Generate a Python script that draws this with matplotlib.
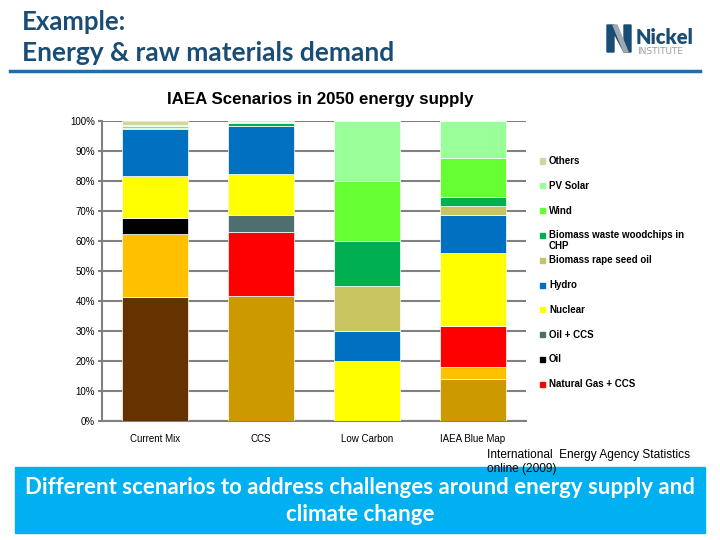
import numpy as np
import matplotlib
matplotlib.use('Agg')
import matplotlib.pyplot as plt
from matplotlib.patches import Rectangle, Polygon

scenarios = ['Current Mix', 'CCS', 'Low Carbon', 'IAEA Blue Map']

# stacking order, bottom to top
sources = ['Coal', 'Coal + CCS', 'Natural Gas', 'Natural Gas + CCS', 'Oil', 'Oil + CCS',
           'Nuclear', 'Hydro', 'Biomass rape seed oil', 'Biomass waste woodchips in\nCHP',
           'Wind', 'PV Solar', 'Others']
colors = ['#663300', '#CC9900', '#FFC000', '#FF0000', '#000000', '#4F6F6F',
          '#FFFF00', '#0070C0', '#C8C560', '#00B050', '#66FF33', '#99FF99', '#D2D69C']

# shares in percent, one list per source, values for the four scenarios
coal = [41.4, 0, 0, 0]
coal_ccs = [0, 41.8, 0, 14.1]
gas = [20.9, 0, 0, 4.0]
gas_ccs = [0, 21.2, 0, 13.7]
oil = [5.3, 0, 0, 0]
oil_ccs = [0, 5.7, 0, 0]
nuclear = [14.1, 13.7, 20.0, 24.2]
hydro = [15.5, 16.0, 10.0, 12.7]
rape_oil = [0, 0, 15.0, 3.1]
woodchips = [0.6, 1.0, 15.0, 3.0]
wind = [0.4, 0.2, 20.0, 13.0]
pv = [0.6, 0.2, 20.0, 12.2]
others = [1.2, 0.2, 0, 0]

shares = [coal, coal_ccs, gas, gas_ccs, oil, oil_ccs, nuclear, hydro,
          rape_oil, woodchips, wind, pv, others]

# the legend in the original is cut off after this many entries
n_legend = 10

fig = plt.figure(figsize=(7.2, 5.4), dpi=100)
W, H = 720, 540

# header
fig.text(22 / W, 1 - 22 / H, 'Example:', fontsize=18.5, fontweight='bold',
         family='Lato', color='#1A4D75', va='center', ha='left')
fig.text(22 / W, 1 - 53 / H, 'Energy & raw materials demand', fontsize=19, fontweight='bold',
         family='Lato', color='#1A4D75', va='center', ha='left')
fig.add_artist(plt.Line2D([10 / W, 700 / W], [1 - 71 / H, 1 - 71 / H], color='#1F6FAE', lw=2.5))

# logo
fig.add_artist(Polygon([[607 / W, 1 - 52 / H], [607 / W, 1 - 25 / H], [614 / W, 1 - 25 / H],
                        [624 / W, 1 - 44 / H], [624 / W, 1 - 25 / H], [631 / W, 1 - 25 / H],
                        [631 / W, 1 - 52 / H], [624 / W, 1 - 52 / H], [614 / W, 1 - 33 / H],
                        [614 / W, 1 - 52 / H]], closed=True, color='#1A4D75'))
fig.add_artist(Polygon([[613 / W, 1 - 25 / H], [617 / W, 1 - 25 / H], [628 / W, 1 - 52 / H],
                        [624 / W, 1 - 52 / H]], closed=True, color='#A0A8B0'))
fig.text(636 / W, 1 - 37 / H, 'Nickel', fontsize=14.5, fontweight='heavy', family='Lato',
         color='#1A4D75', va='center', ha='left')
fig.text(637 / W, 1 - 51 / H, 'INSTITUTE', fontsize=6.5, family='DejaVu Sans',
         color='#9AA0A6', va='center', ha='left')

# chart title
fig.text(320 / W, 1 - 100 / H, 'IAEA Scenarios in 2050 energy supply', fontsize=12.2,
         fontweight='bold', family='Liberation Sans', ha='center', va='center')

ax = fig.add_axes([102 / W, 1 - 421 / H, 424 / W, 300 / H])
x = np.arange(len(scenarios))
bottom = np.zeros(len(scenarios))
for vals, col in zip(shares, colors):
    v = np.array(vals)
    ax.bar(x, v, 0.63, bottom=bottom, color=col, edgecolor='white', linewidth=0.5, zorder=3)
    bottom += v

ax.set_xlim(-0.5, 3.5)
ax.set_ylim(0, 100)
ax.set_yticks(np.arange(0, 101, 10))
ax.set_yticklabels([f'{t}%' for t in range(0, 101, 10)])
ax.set_xticks(x)
ax.set_xticklabels(scenarios)
ax.grid(axis='y', color='#808080', lw=1.5, zorder=0)
for s in ['top', 'right']:
    ax.spines[s].set_visible(False)
for s in ['left', 'bottom']:
    ax.spines[s].set_color('#808080')
    ax.spines[s].set_linewidth(1.5)
ax.tick_params(axis='y', length=3, color='#808080', width=1.5, labelsize=7, pad=2)
ax.tick_params(axis='x', length=0, labelsize=7, pad=9)
for lab in ax.get_xticklabels() + ax.get_yticklabels():
    lab.set_family('Liberation Sans')

# legend, top entry first
leg_x = 542
leg_y0 = 161
leg_step = 24.8
for i, k in enumerate(range(len(sources) - 1, len(sources) - 1 - n_legend, -1)):
    yy = leg_y0 + i * leg_step
    fig.add_artist(Rectangle(((leg_x - 2.5) / W, 1 - (yy + 2.5) / H), 5 / W, 5 / H,
                             color=colors[k]))
    fig.text((leg_x + 7) / W, 1 - (yy - 5) / H, sources[k], fontsize=7, fontweight='bold',
             family='Liberation Sans', va='top', ha='left', linespacing=1.05)

# source note (drawn over the banner's top edge, as in the original)
fig.text(487 / W, 1 - 449 / H, 'International  Energy Agency Statistics\nonline (2009)',
         fontsize=8.6, family='Liberation Sans', va='top', ha='left', linespacing=1.2,
         zorder=7)

# bottom banner
fig.add_artist(Rectangle((15 / W, 1 - 533 / H), 690 / W, 66 / H, color='#00B0F0', zorder=5))
fig.text(360 / W, 1 - 501 / H,
         'Different scenarios to address challenges around energy supply and\nclimate change',
         fontsize=16, fontweight='bold', family='Lato', color='white', ha='center',
         va='center', linespacing=1.3, zorder=6)

fig.savefig('out.png', dpi=100)
